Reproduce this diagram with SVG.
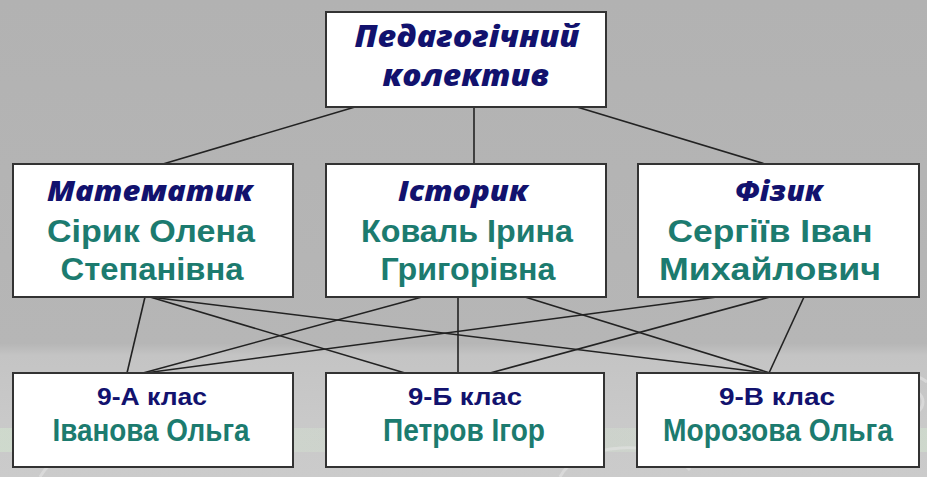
<svg xmlns="http://www.w3.org/2000/svg" width="927" height="477" viewBox="0 0 927 477">
<defs>
<linearGradient id="bg" x1="0" y1="0" x2="0" y2="1">
<stop offset="0" stop-color="#b2b2b2"/>
<stop offset="0.72" stop-color="#b6b6b6"/>
<stop offset="0.745" stop-color="#c4c4c4"/>
<stop offset="0.88" stop-color="#c9c9c9"/>
<stop offset="1" stop-color="#cbcbcb"/>
</linearGradient>
<linearGradient id="gband" x1="0" y1="0" x2="1" y2="0">
<stop offset="0" stop-color="#d4ecd0" stop-opacity="0.9"/>
<stop offset="0.5" stop-color="#d8ecd4" stop-opacity="0.4"/>
<stop offset="1" stop-color="#d4ecd0" stop-opacity="0.8"/>
</linearGradient>
</defs>
<style>
.box{fill:#ffffff;stroke:#333333;stroke-width:2}
.ttl{font-family:"Open Sans","DejaVu Sans",sans-serif;font-weight:800;font-style:italic;fill:#12126e;text-anchor:middle}
.nm{font-family:"Liberation Sans",Arial,sans-serif;font-weight:bold;fill:#1c7b6f;text-anchor:middle}
.cl{font-family:"Liberation Sans",Arial,sans-serif;font-weight:bold;fill:#12126e;text-anchor:middle}
.cn{font-family:"Liberation Sans",Arial,sans-serif;font-weight:bold;fill:#1c7b6f;text-anchor:middle}
#connectors line{stroke:#222222;stroke-width:1.6}
.sw{fill:none;stroke:#e6e6e6;stroke-opacity:0.55;stroke-width:3}
</style>
<rect x="0" y="0" width="927" height="477" fill="url(#bg)"/>
<rect x="0" y="428" width="927" height="24" fill="url(#gband)" opacity="0.5"/>
<g id="decor">
<ellipse class="sw" cx="905" cy="402" rx="10" ry="8"/>
<ellipse class="sw" cx="905" cy="402" rx="18" ry="14"/>
<path class="sw" d="M880,390 A28,22 0 0,1 927,382"/>
<path class="sw" d="M878,414 A28,22 0 0,0 920,426"/>
<path class="sw" d="M560,477 A70,40 0 0,1 690,470" stroke-opacity="0.35"/>
<path class="sw" d="M40,477 A90,50 0 0,1 200,462" stroke="#dcefd8" stroke-opacity="0.5"/>
</g>
<g id="connectors">
<line x1="355" y1="107" x2="163" y2="164"/>
<line x1="474" y1="107" x2="474" y2="164"/>
<line x1="577" y1="107" x2="765" y2="164"/>
<line x1="145" y1="297" x2="127" y2="373"/>
<line x1="150" y1="297" x2="405" y2="373"/>
<line x1="150" y1="297" x2="768" y2="373"/>
<line x1="422" y1="297" x2="143" y2="373"/>
<line x1="458" y1="297" x2="458" y2="373"/>
<line x1="525" y1="297" x2="770" y2="373"/>
<line x1="717" y1="297" x2="145" y2="373"/>
<line x1="770" y1="297" x2="490" y2="373"/>
<line x1="804" y1="297" x2="769" y2="373"/>
</g>
<g id="node-top">
<rect class="box" x="326" y="12" width="280" height="95"/>
<text class="ttl" x="467" y="47" font-size="30" textLength="225" lengthAdjust="spacingAndGlyphs">Педагогічний</text>
<text class="ttl" x="466" y="86" font-size="30" textLength="167" lengthAdjust="spacingAndGlyphs">колектив</text>
</g>
<g id="node-math">
<rect class="box" x="13" y="164" width="280" height="133"/>
<text class="ttl" x="150" y="201" font-size="28" textLength="206" lengthAdjust="spacingAndGlyphs">Математик</text>
<text class="nm" x="151" y="242" font-size="32" textLength="208" lengthAdjust="spacingAndGlyphs">Сірик Олена</text>
<text class="nm" x="152" y="280" font-size="32" textLength="183" lengthAdjust="spacingAndGlyphs">Степанівна</text>
</g>
<g id="node-hist">
<rect class="box" x="326" y="164" width="280" height="133"/>
<text class="ttl" x="463" y="201" font-size="28" textLength="130" lengthAdjust="spacingAndGlyphs">Історик</text>
<text class="nm" x="467" y="242" font-size="32" textLength="212" lengthAdjust="spacingAndGlyphs">Коваль Ірина</text>
<text class="nm" x="468" y="280" font-size="32" textLength="175" lengthAdjust="spacingAndGlyphs">Григорівна</text>
</g>
<g id="node-phys">
<rect class="box" x="638" y="164" width="281" height="133"/>
<text class="ttl" x="779" y="201" font-size="28" textLength="88" lengthAdjust="spacingAndGlyphs">Фізик</text>
<text class="nm" x="770" y="242" font-size="32" textLength="205" lengthAdjust="spacingAndGlyphs">Сергіїв Іван</text>
<text class="nm" x="770" y="280" font-size="32" textLength="222" lengthAdjust="spacingAndGlyphs">Михайлович</text>
</g>
<g id="node-9a">
<rect class="box" x="13" y="373" width="280" height="94"/>
<text class="cl" x="152" y="405" font-size="24" textLength="110" lengthAdjust="spacingAndGlyphs">9-А клас</text>
<text class="cn" x="151" y="441" font-size="31" textLength="197" lengthAdjust="spacingAndGlyphs">Іванова Ольга</text>
</g>
<g id="node-9b">
<rect class="box" x="326" y="373" width="278" height="94"/>
<text class="cl" x="465" y="405" font-size="24" textLength="114" lengthAdjust="spacingAndGlyphs">9-Б клас</text>
<text class="cn" x="464" y="441" font-size="31" textLength="162" lengthAdjust="spacingAndGlyphs">Петров Ігор</text>
</g>
<g id="node-9v">
<rect class="box" x="637" y="373" width="282" height="94"/>
<text class="cl" x="777" y="405" font-size="24" textLength="116" lengthAdjust="spacingAndGlyphs">9-В клас</text>
<text class="cn" x="778" y="441" font-size="31" textLength="230" lengthAdjust="spacingAndGlyphs">Морозова Ольга</text>
</g>
</svg>
